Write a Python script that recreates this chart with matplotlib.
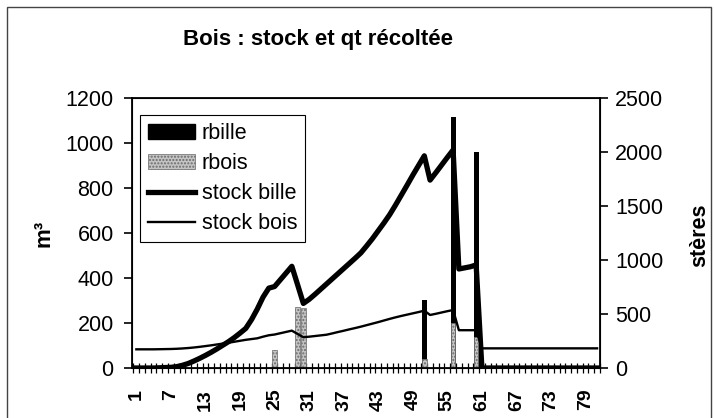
import numpy as np
import matplotlib.pyplot as plt
from matplotlib.patches import Rectangle, Patch
from matplotlib.lines import Line2D

plt.rcParams['font.family'] = ['Liberation Sans', 'DejaVu Sans']

# periods 1..81
periods = np.arange(1, 82)

# stock of logs (m3, left axis)
stock_bille = [0, 0, 0, 0, 1, 2, 3, 6, 12, 20,
               31, 43, 56, 70, 85, 101, 117, 135, 155, 176,
               215, 262, 315, 355, 362, 392, 422, 452, 370, 287,
               305, 327, 350, 373, 396, 419, 442, 465, 488, 512,
               543, 575, 610, 645, 682, 724, 768, 812, 857, 900,
               943, 835, 868, 902, 936, 969, 440, 445, 450, 458,
               0, 0, 0, 0, 0, 0, 0, 0, 0, 0,
               0, 0, 0, 0, 0, 0, 0, 0, 0, 0,
               0]

# stock of firewood (steres, right axis)
stock_bois = [173, 173, 173, 173, 174, 175, 176, 178, 181, 185,
              190, 196, 203, 210, 218, 226, 234, 243, 252, 261,
              268, 275, 290, 303, 310, 322, 334, 346, 315, 285,
              290, 296, 302, 308, 320, 333, 345, 358, 370, 383,
              397, 411, 425, 440, 455, 469, 482, 494, 506, 518,
              531, 491, 502, 514, 526, 537, 350, 350, 350, 350,
              182, 182, 182, 182, 182, 182, 182, 182, 182, 182,
              182, 182, 182, 182, 182, 182, 182, 182, 182, 182,
              182]

# harvests
rbille = [0, 0, 0, 0, 0, 0, 0, 0, 0, 0,
          0, 0, 0, 0, 0, 0, 0, 0, 0, 0,
          0, 0, 0, 0, 0, 0, 0, 0, 0, 0,
          0, 0, 0, 0, 0, 0, 0, 0, 0, 0,
          0, 0, 0, 0, 0, 0, 0, 0, 0, 0,
          302, 0, 0, 0, 0, 1114, 0, 0, 0, 959,
          0, 0, 0, 0, 0, 0, 0, 0, 0, 0,
          0, 0, 0, 0, 0, 0, 0, 0, 0, 0,
          0]
rbois = [0, 0, 0, 0, 0, 0, 0, 0, 0, 0,
         0, 0, 0, 0, 0, 0, 0, 0, 0, 0,
         0, 0, 0, 0, 167, 0, 0, 0, 568, 553,
         0, 0, 0, 0, 0, 0, 0, 0, 0, 0,
         0, 0, 0, 0, 0, 0, 0, 0, 0, 0,
         80, 0, 0, 0, 0, 414, 0, 0, 0, 290,
         0, 0, 0, 0, 0, 0, 0, 0, 0, 0,
         0, 0, 0, 0, 0, 0, 0, 0, 0, 0,
         0]

fig = plt.figure(figsize=(7.14, 4.18), dpi=100)
ax = fig.add_axes([0.1845, 0.1196, 0.6558, 0.646])
ax2 = ax.twinx()

ax.bar(periods, rbille, width=0.9, color='black', linewidth=0)
ax.plot(periods, stock_bille, color='black', lw=3.8, solid_joinstyle='round')

ax2.bar(periods, rbois, width=0.8, facecolor='#c4c4c4', edgecolor='#6a6a6a',
        hatch='.....', linewidth=0.5)
ax2.plot(periods, stock_bois, color='black', lw=1.7)

ax.set_xlim(0.2, 81.2)
ax.set_ylim(0, 1200)
ax2.set_ylim(0, 2500)

ax.set_yticks(range(0, 1201, 200))
ax2.set_yticks(range(0, 2501, 500))
ax.tick_params(axis='y', direction='out', length=6, width=1.2, labelsize=15.5, pad=7)
ax2.tick_params(axis='y', direction='out', length=6, width=1.2, labelsize=15.5, pad=5)

ax.set_xticks(periods[::6])
ax.set_xticklabels([str(p) for p in periods[::6]], rotation=90,
                   fontweight='bold', fontsize=14)
ax.set_xticks(np.arange(0.5, 82, 1), minor=True)
ax.tick_params(axis='x', which='major', length=0, pad=15)
ax.tick_params(axis='x', which='minor', direction='inout', length=7, width=0.9)

for sp in ax2.spines.values():
    sp.set_linewidth(1.3)

ax.set_ylabel('m³', fontweight='bold', fontsize=16)
ax.yaxis.set_label_coords(-0.165, 0.5)
ax2.set_ylabel('stères', fontweight='bold', fontsize=15.5)
ax2.yaxis.set_label_coords(1.19, 0.49)

handles = [Patch(facecolor='black', edgecolor='black'),
           Patch(facecolor='#c4c4c4', edgecolor='#6a6a6a', hatch='.....', linewidth=0.5),
           Line2D([], [], color='black', lw=3.8),
           Line2D([], [], color='black', lw=1.7)]
leg = ax2.legend(handles, ['rbille', 'rbois', 'stock bille', 'stock bois'],
                 loc='upper left', bbox_to_anchor=(0.017, 0.937), borderaxespad=0,
                 fontsize=15.5, fancybox=False, framealpha=1, edgecolor='black',
                 handlelength=2.2, handletextpad=0.3, labelspacing=0.42,
                 borderpad=0.38)
leg.get_frame().set_linewidth(0.8)

fig.text(0.445, 0.905, 'Bois : stock et qt récoltée', ha='center', va='center',
         fontweight='bold', fontsize=16)

fig.patches.append(Rectangle((7 / 714, -0.05), 704 / 714, 1.05 - 7 / 418,
                             transform=fig.transFigure, fill=False,
                             edgecolor='#444444', lw=1))

fig.savefig('out.png', dpi=100)
